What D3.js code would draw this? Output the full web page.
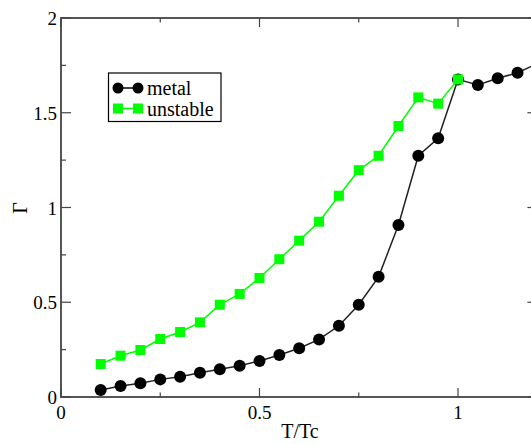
<!DOCTYPE html>
<html>
<head>
<meta charset="utf-8">
<script src="https://cdn.jsdelivr.net/npm/d3@7"></script>
<style>
  html, body { margin: 0; padding: 0; background: #fff; }
  svg { display: block; font-family: "Liberation Serif", "DejaVu Serif", serif; }
</style>
</head>
<body>
<div id="chart"></div>
<script>
// temperature grid (T/Tc)
const tMetal = [0.1, 0.15, 0.2, 0.25, 0.3, 0.35, 0.4, 0.45, 0.5, 0.55, 0.6, 0.65,
                0.7, 0.75, 0.8, 0.85, 0.9, 0.95, 1.0, 1.05, 1.1, 1.15, 1.2];
const metal = [0.037, 0.058, 0.072, 0.093, 0.107, 0.128, 0.146, 0.165, 0.19, 0.222, 0.257, 0.304,
               0.376, 0.487, 0.634, 0.908, 1.273, 1.365, 1.676, 1.646, 1.682, 1.711, 1.76];
const tUnstable = [0.1, 0.15, 0.2, 0.25, 0.3, 0.35, 0.4, 0.45, 0.5, 0.55, 0.6, 0.65,
                   0.7, 0.75, 0.8, 0.85, 0.9, 0.95, 1.0];
const unstable = [0.174, 0.218, 0.248, 0.306, 0.343, 0.394, 0.487, 0.544, 0.628, 0.727, 0.825, 0.925,
                  1.062, 1.197, 1.273, 1.43, 1.581, 1.548, 1.676];

const xMajor = [0, 0.5, 1];
const xMinor = [0.25, 0.75, 1.25];
const yMajor = [0, 0.5, 1, 1.5, 2];
const yMinor = [0.25, 0.75, 1.25, 1.75];
const seriesNames = ['metal', 'unstable'];

const W = 531, H = 444;
const pL = 61, pR = 537.4, pT = 18, pB = 397;

const x = d3.scaleLinear().domain([0, 1.2]).range([pL, pR]);
const y = d3.scaleLinear().domain([0, 2]).range([pB, pT]);

const svg = d3.select('#chart').append('svg')
    .attr('width', W)
    .attr('height', H);

const frame = '#444';

// ticks on all four sides, pointing inward
function ticks(vals, len, isX) {
    vals.forEach(v => {
        if (isX) {
            svg.append('line').attr('x1', x(v)).attr('x2', x(v))
                .attr('y1', pB).attr('y2', pB - len);
            svg.append('line').attr('x1', x(v)).attr('x2', x(v))
                .attr('y1', pT).attr('y2', pT + len);
        } else {
            svg.append('line').attr('y1', y(v)).attr('y2', y(v))
                .attr('x1', pL).attr('x2', pL + len);
            svg.append('line').attr('y1', y(v)).attr('y2', y(v))
                .attr('x1', pR).attr('x2', pR - len);
        }
    });
}
ticks(xMajor, 9, true);
ticks(xMinor, 4.5, true);
ticks(yMajor, 10, false);
ticks(yMinor, 5, false);
svg.selectAll('line').attr('stroke', frame).attr('stroke-width', 1.2);

svg.append('rect')
    .attr('x', pL).attr('y', pT)
    .attr('width', pR - pL).attr('height', pB - pT)
    .attr('fill', 'none')
    .attr('stroke', frame)
    .attr('stroke-width', 1.8);

// tick labels
svg.selectAll('.xl')
    .data(xMajor)
    .enter().append('text')
    .attr('x', d => x(d))
    .attr('y', 419)
    .attr('text-anchor', 'middle')
    .attr('font-size', 19)
    .text(d => d3.format('')(d));

svg.selectAll('.yl')
    .data(yMajor)
    .enter().append('text')
    .attr('x', 57)
    .attr('y', d => y(d) + 7)
    .attr('text-anchor', 'end')
    .attr('font-size', 19)
    .text(d => d3.format('')(d));

// axis titles
svg.append('text')
    .attr('x', 300).attr('y', 438)
    .attr('text-anchor', 'middle')
    .attr('font-size', 20)
    .text('T/Tc');

svg.append('text')
    .attr('transform', 'translate(27,208) rotate(-90)')
    .attr('text-anchor', 'middle')
    .attr('font-size', 20)
    .text('Γ');

// series
const line = d3.line().x(d => x(d[0])).y(d => y(d[1]));
const metalPts = tMetal.map((t, i) => [t, metal[i]]);
const unstPts = tUnstable.map((t, i) => [t, unstable[i]]);

svg.append('path')
    .datum(metalPts)
    .attr('d', line)
    .attr('fill', 'none')
    .attr('stroke', '#222')
    .attr('stroke-width', 1.5);

svg.selectAll('.mdot')
    .data(metalPts)
    .enter().append('circle')
    .attr('cx', d => x(d[0]))
    .attr('cy', d => y(d[1]))
    .attr('r', 6)
    .attr('fill', '#000');

svg.append('path')
    .datum(unstPts)
    .attr('d', line)
    .attr('fill', 'none')
    .attr('stroke', '#00ff00')
    .attr('stroke-width', 1.5);

svg.selectAll('.usq')
    .data(unstPts)
    .enter().append('rect')
    .attr('x', d => x(d[0]) - 5)
    .attr('y', d => y(d[1]) - 5)
    .attr('width', 10)
    .attr('height', 10)
    .attr('fill', '#00ff00');

// legend
const lg = svg.append('g');
lg.append('rect')
    .attr('x', 108.5).attr('y', 73)
    .attr('width', 112.5).attr('height', 48.5)
    .attr('fill', '#fff')
    .attr('stroke', '#000')
    .attr('stroke-width', 1.2);

lg.append('line').attr('x1', 118).attr('x2', 138).attr('y1', 88).attr('y2', 88)
    .attr('stroke', '#000').attr('stroke-width', 1.5);
[118, 138].forEach(cx => {
    lg.append('circle').attr('cx', cx).attr('cy', 88).attr('r', 5.5).attr('fill', '#000');
});
lg.append('line').attr('x1', 118).attr('x2', 138).attr('y1', 108.5).attr('y2', 108.5)
    .attr('stroke', '#00ff00').attr('stroke-width', 1.5);
[118, 138].forEach(cx => {
    lg.append('rect').attr('x', cx - 5).attr('y', 103.5).attr('width', 10).attr('height', 10)
        .attr('fill', '#00ff00');
});

lg.selectAll('.lt')
    .data(seriesNames)
    .enter().append('text')
    .attr('x', 147)
    .attr('y', (d, i) => 95 + i * 21)
    .attr('font-size', 20)
    .text(d => d);
</script>
</body>
</html>
